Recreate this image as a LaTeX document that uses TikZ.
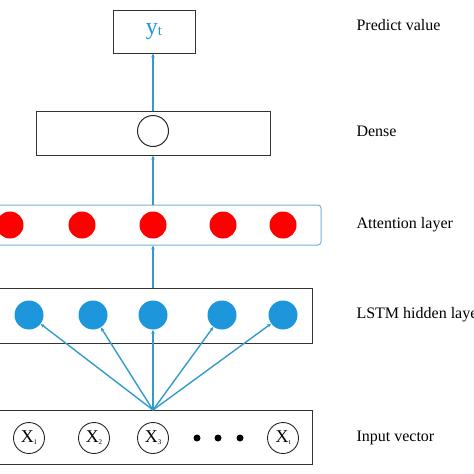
\documentclass[tikz,border=0pt]{standalone}
\usepackage{fontspec}
\setmainfont{Liberation Serif}
\usepackage{tikz}
\usetikzlibrary{positioning, arrows.meta, shapes}
\usepackage{xcolor}
\definecolor{LineBlue}{RGB}{50, 155, 205}
\definecolor{CellBlue}{RGB}{30, 150, 220}
\definecolor{FrameBlue}{RGB}{120, 175, 215}

\begin{document}
\begin{tikzpicture}[x=1pt, y=-1pt]
        \tikzstyle{layer} = [rectangle, draw=black!80, line width=1pt, inner sep=0pt]
        \tikzstyle{att} = [circle, fill=red, inner sep=0pt, minimum size=27pt]
        \tikzstyle{hid} = [circle, fill=CellBlue, inner sep=0pt, minimum size=29pt]
        \tikzstyle{inp} = [circle, draw=black!85, line width=0.9pt, inner sep=0pt, minimum size=31pt]
        \tikzstyle{lbl} = [anchor=west, font=\fontsize{16}{18}\selectfont]
        \tikzstyle{flow} = [draw=LineBlue, line width=1.4pt, -{Stealth[length=4pt, width=3.5pt]}]
        \useasboundingbox (0,0) rectangle (474,474);

        % boxes
        \node[layer, minimum width=82pt, minimum height=43pt] (out) at (154,31.5)
          {\color{CellBlue}\fontsize{24}{24}\selectfont y\raisebox{-1pt}{\fontsize{15}{15}\selectfont t}};
        \node[layer, minimum width=234pt, minimum height=44pt] (dense) at (153,133) {};
        \node[circle, draw=black!85, line width=1pt, minimum size=31pt] (unit) at (153,131) {};
        \node[rectangle, draw=FrameBlue, line width=1pt, rounded corners=3pt,
          minimum width=330pt, minimum height=40pt] (attn) at (156,225) {};
        \node[layer, minimum width=322pt, minimum height=55pt] (lstm) at (151,315.5) {};
        \node[layer, minimum width=322pt, minimum height=54pt] (input) at (151,437) {};

        % cells
        \foreach \xc [count=\i] in {10,82,153,223,283}
          \node[att] (a\i) at (\xc,225) {};
        \foreach \xc [count=\i] in {29,93,153,222,283}
          \node[hid] (h\i) at (\xc,315) {};
        \foreach \xc/\sub [count=\i] in {29/1,94/2,153/3,283/t}
          \node[inp] (x\i) at (\xc,438)
            {\fontsize{18}{18}\selectfont X\raisebox{-2pt}{\fontsize{7}{7}\selectfont\sub}};
        \foreach \xc [count=\i] in {197,218,240}
          \node[circle, fill=black, inner sep=0pt, minimum size=7pt] (d\i) at (\xc,438) {};

        % connections
        \coordinate (src) at (153,410);
        \foreach \i in {1,...,5}
          \draw[flow] (src) -- (h\i);
        \draw[flow] (lstm.north -| unit) -- (attn.south -| unit);
        \draw[flow] (attn.north -| unit) -- (dense.south -| unit);
        \draw[flow] (dense.north -| unit) -- (out.south -| unit);

        % labels
        \node[lbl] (lp) at (353,25) {Predict value};
        \node[lbl] (ld) at (353,131) {Dense};
        \node[lbl] (la) at (353,225) {Attention layer};
        \node[lbl] (lh) at (353,315) {LSTM hidden layer};
        \node[lbl] (li) at (353,438) {Input vector};
      \end{tikzpicture}
\end{document}
